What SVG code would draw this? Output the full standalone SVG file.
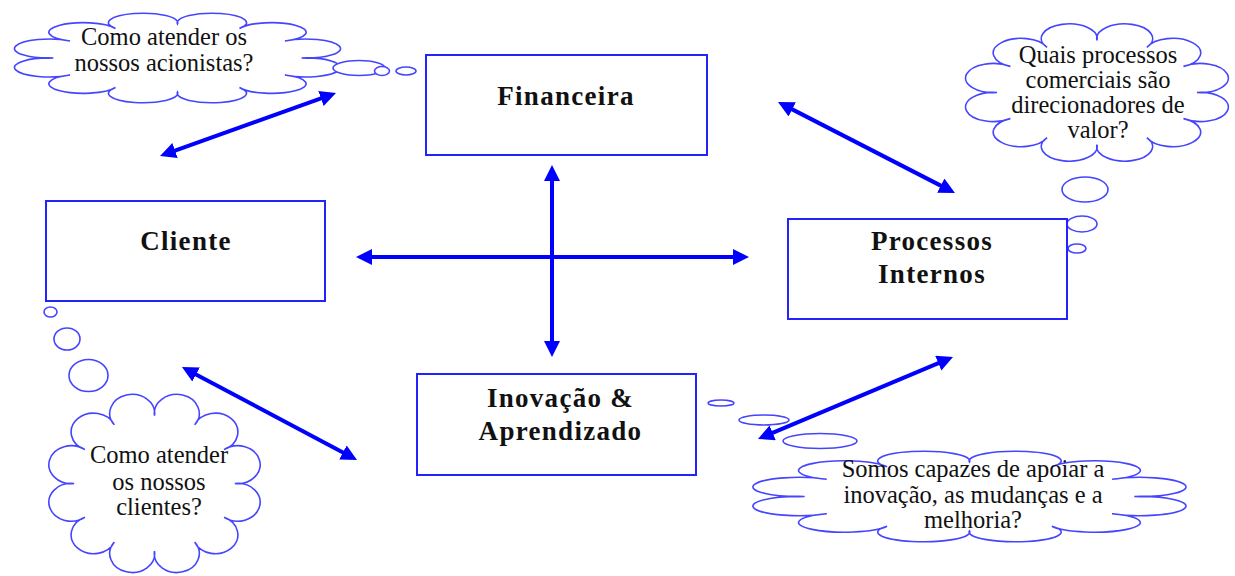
<svg xmlns="http://www.w3.org/2000/svg" width="1235" height="576" viewBox="0 0 1235 576">
<style>
.box{fill:#fff;stroke:#2323ff;stroke-width:2}
.lbl{font-family:'Liberation Serif','DejaVu Serif',serif;font-weight:bold;font-size:27px;letter-spacing:1.3px;fill:#111;text-anchor:middle}
.ct{font-family:'Liberation Serif','DejaVu Serif',serif;font-size:24.5px;fill:#111;text-anchor:middle}
.bub{fill:#fff;stroke:#4545ff;stroke-width:1.6}
.arr{fill:none;stroke:#0000ff;stroke-width:4;marker-start:url(#ah);marker-end:url(#ah)}
</style>
<defs>
<path id="cloud" vector-effect="non-scaling-stroke" fill="#fff" stroke="#4545ff" stroke-width="1.6" d="M50,16 A9.5,9.5 0 1 1 67,20.56 A9.5,9.5 0 1 1 79.44,33 A9.5,9.5 0 1 1 84,50 A9.5,9.5 0 1 1 79.44,67 A9.5,9.5 0 1 1 67,79.44 A9.5,9.5 0 1 1 50,84 A9.5,9.5 0 1 1 33,79.44 A9.5,9.5 0 1 1 20.56,67 A9.5,9.5 0 1 1 16,50 A9.5,9.5 0 1 1 20.56,33 A9.5,9.5 0 1 1 33,20.56 A9.5,9.5 0 1 1 50,16 Z"/>
<marker id="ah" markerUnits="userSpaceOnUse" markerWidth="16" markerHeight="16" refX="6" refY="8" orient="auto-start-reverse" viewBox="0 0 16 16">
<path d="M0,0 L16,8 L0,16 Z" fill="#0000ff"/>
</marker>
</defs>
<rect width="1235" height="576" fill="#fff"/>

<g id="cloud-acionistas">
<use href="#cloud" transform="translate(-4.96,7.9) scale(3.649,1.002)"/>
<ellipse class="bub" cx="359" cy="68" rx="26" ry="7.5"/>
<ellipse class="bub" cx="382" cy="71" rx="7.5" ry="4.5"/>
<ellipse class="bub" cx="406" cy="71" rx="10" ry="4"/>
<text class="ct" x="164" y="45">Como atender os</text>
<text class="ct" x="164" y="70.5">nossos acionistas?</text>
</g>

<g id="cloud-processos">
<use href="#cloud" transform="translate(949.9,15.7) scale(2.941,1.536)"/>
<ellipse class="bub" cx="1085" cy="189.5" rx="23" ry="12.5"/>
<ellipse class="bub" cx="1082" cy="224" rx="15" ry="8"/>
<ellipse class="bub" cx="1077" cy="248.5" rx="9" ry="4.5"/>
<text class="ct" x="1098" y="63">Quais processos</text>
<text class="ct" x="1098" y="88">comerciais são</text>
<text class="ct" x="1098" y="113">direcionadores de</text>
<text class="ct" x="1098" y="138">valor?</text>
</g>

<g id="cloud-clientes">
<ellipse class="bub" cx="50.5" cy="312" rx="6.5" ry="5"/>
<ellipse class="bub" cx="67" cy="339" rx="13" ry="11"/>
<ellipse class="bub" cx="88.5" cy="375.5" rx="19.5" ry="16"/>
<use href="#cloud" transform="translate(36.3,383.8) scale(2.364,1.993)"/>
<text class="ct" x="159" y="463">Como atender</text>
<text class="ct" x="159" y="490">os nossos</text>
<text class="ct" x="159" y="515">clientes?</text>
</g>

<g id="cloud-inovacao">
<ellipse class="bub" cx="721" cy="403" rx="13" ry="3"/>
<ellipse class="bub" cx="764" cy="420" rx="25" ry="5"/>
<ellipse class="bub" cx="820" cy="441" rx="37" ry="7.5"/>
<use href="#cloud" transform="translate(727.1,445.85) scale(4.847,1.013)"/>
<text class="ct" x="973" y="477">Somos capazes de apoiar a</text>
<text class="ct" x="973" y="503">inovação, as mudanças e a</text>
<text class="ct" x="973" y="528">melhoria?</text>
</g>

<g id="financeira">
<rect class="box" x="426" y="55" width="281" height="100"/>
<text class="lbl" x="566" y="105">Financeira</text>
</g>
<g id="cliente">
<rect class="box" x="46" y="201" width="279" height="100"/>
<text class="lbl" x="186" y="250">Cliente</text>
</g>
<g id="processos-internos">
<rect class="box" x="788" y="219" width="279" height="100"/>
<text class="lbl" x="932" y="250">Processos</text>
<text class="lbl" x="932" y="283">Internos</text>
</g>
<g id="inovacao-aprendizado">
<rect class="box" x="417" y="374" width="279" height="101"/>
<text class="lbl" x="560.5" y="407">Inovação &amp;</text>
<text class="lbl" x="560.5" y="440">Aprendizado</text>
</g>

<g id="connectors">
<line class="arr" x1="169.4" y1="152.6" x2="326.6" y2="96.4"/>
<line class="arr" x1="786.9" y1="106.6" x2="946.1" y2="188.4"/>
<line class="arr" x1="190.8" y1="371.7" x2="348.2" y2="455.3"/>
<line class="arr" x1="943.8" y1="360.9" x2="767.2" y2="435.1"/>
<line class="arr" x1="552" y1="175" x2="552" y2="347"/>
<line class="arr" x1="366" y1="257" x2="739" y2="257"/>
</g>
</svg>
